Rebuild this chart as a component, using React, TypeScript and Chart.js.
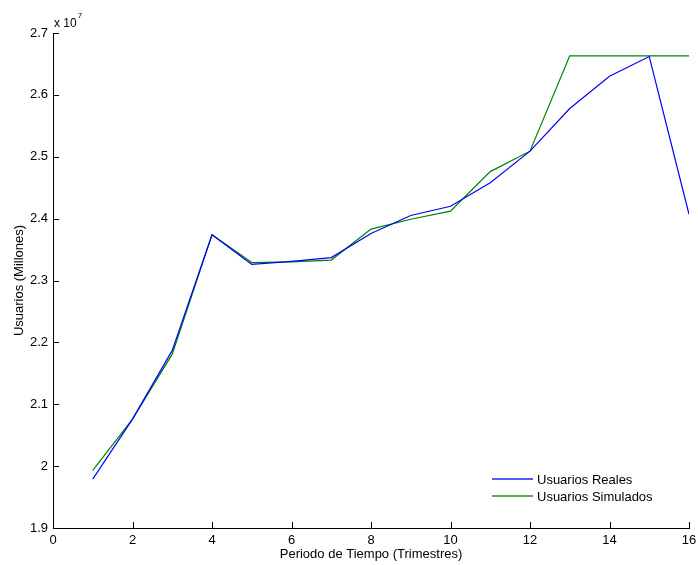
import { useEffect, useRef } from "react";
import { Chart, registerables } from "chart.js";

Chart.register(...registerables);

const periods = [1, 2, 3, 4, 5, 6, 7, 8, 9, 10, 11, 12, 13, 14, 15, 16];
const realUsers = [
  19790000, 20760000, 21870000, 23740000, 23260000, 23310000, 23370000, 23760000,
  24050000, 24200000, 24580000, 25090000, 25780000, 26300000, 26620000, 24070000,
];
const simulatedUsers = [
  19930000, 20760000, 21810000, 23740000, 23290000, 23300000, 23330000, 23830000,
  23990000, 24120000, 24760000, 25090000, 26630000, 26630000, 26630000, 26630000,
];
const seriesLabels = ["Usuarios Reales", "Usuarios Simulados"];
const seriesColors = ["#0000ff", "#008000"];
const xTitle = "Periodo de Tiempo (Trimestres)";
const yTitle = "Usuarios (Millones)";
const yExponent = "7";

const FONT = "'Liberation Sans', Arial, Helvetica, sans-serif";
const FS = 13;

const matlabPlugin = {
  id: "matlabDecor",
  afterDraw(chart: any) {
    const ctx = chart.ctx;
    const xs = chart.scales.x;
    const ys = chart.scales.y;
    const area = chart.chartArea;
    ctx.save();
    ctx.fillStyle = "#000";
    // inward tick marks
    xs.ticks.forEach((t: any) => {
      const px = Math.round(xs.getPixelForValue(t.value));
      ctx.fillRect(px, Math.round(area.bottom) - 6, 1, 6);
    });
    ys.ticks.forEach((t: any) => {
      const py = Math.round(ys.getPixelForValue(t.value));
      ctx.fillRect(Math.round(area.left), py, 6, 1);
    });

    // exponent label
    ctx.fillStyle = "#000";
    ctx.textBaseline = "alphabetic";
    ctx.textAlign = "left";
    ctx.font = `12px ${FONT}`;
    const base = "x 10";
    ctx.fillText(base, area.left + 1, area.top - 6);
    const w = ctx.measureText(base).width;
    ctx.font = `8px ${FONT}`;
    ctx.fillText(yExponent, area.left + 1 + w + 1, area.top - 15);

    // legend inside plot (bottom right)
    const lx0 = 492;
    const lx1 = 533;
    const rows = [478, 495];
    seriesLabels.forEach((label, i) => {
      ctx.globalAlpha = 0.65;
      ctx.fillStyle = seriesColors[i];
      ctx.fillRect(lx0, rows[i], lx1 - lx0, 2);
      ctx.globalAlpha = 1;
      ctx.fillStyle = "#000";
      ctx.font = `${FS}px ${FONT}`;
      ctx.textBaseline = "middle";
      ctx.fillText(label, 537, rows[i] + 2);
    });
    ctx.restore();
  },
};

export default function App() {
  const ref = useRef<HTMLCanvasElement | null>(null);
  useEffect(() => {
    if (!ref.current) return;
    const chart = new Chart(ref.current, {
      type: "line",
      data: {
        datasets: [realUsers, simulatedUsers].map((vals, i) => ({
          label: seriesLabels[i],
          data: periods.map((p, j) => ({ x: p, y: vals[j] })),
          borderColor: seriesColors[i],
          backgroundColor: seriesColors[i],
          borderWidth: 1.2,
          pointRadius: 0,
          tension: 0,
          fill: false,
        })),
      },
      options: {
        responsive: false,
        animation: false,
        maintainAspectRatio: false,
        layout: { padding: { left: 0, top: 33, right: 9, bottom: 0 } },
        plugins: {
          legend: { display: false },
          tooltip: { enabled: false },
        },
        scales: {
          x: {
            type: "linear",
            min: 0,
            max: 16,
            afterFit: (s: any) => {
              s.height = 37;
              s.paddingRight = 0;
              s.paddingLeft = 0;
            },
            grid: { display: false, drawTicks: false },
            border: { display: true, color: "#000", width: 1 },
            ticks: {
              stepSize: 2,
              padding: 5,
              color: "#000",
              font: { family: FONT, size: FS },
              maxRotation: 0,
            },
            title: {
              display: true,
              text: xTitle,
              color: "#000",
              font: { family: FONT, size: FS },
              padding: { top: 0, bottom: 3 },
            },
          },
          y: {
            type: "linear",
            min: 19000000,
            max: 27000000,
            afterFit: (s: any) => {
              s.width = 53;
              s.paddingTop = 0;
              s.paddingBottom = 0;
            },
            grid: { display: false, drawTicks: false },
            border: { display: true, color: "#000", width: 1 },
            ticks: {
              stepSize: 1000000,
              padding: 5,
              color: "#000",
              font: { family: FONT, size: FS },
              callback: (v: any) => String(Number((Number(v) / 1e7).toFixed(1))),
            },
            title: {
              display: true,
              text: yTitle,
              color: "#000",
              font: { family: FONT, size: FS },
              padding: { top: 12, bottom: 0 },
            },
          },
        },
      },
      plugins: [matlabPlugin],
    });
    return () => chart.destroy();
  }, []);
  return (
    <div style={{ position: "fixed", left: 0, top: 0, width: 698, height: 565, background: "#fff" }}>
      <canvas ref={ref} width={698} height={565} style={{ width: 698, height: 565, display: "block" }} />
    </div>
  );
}
